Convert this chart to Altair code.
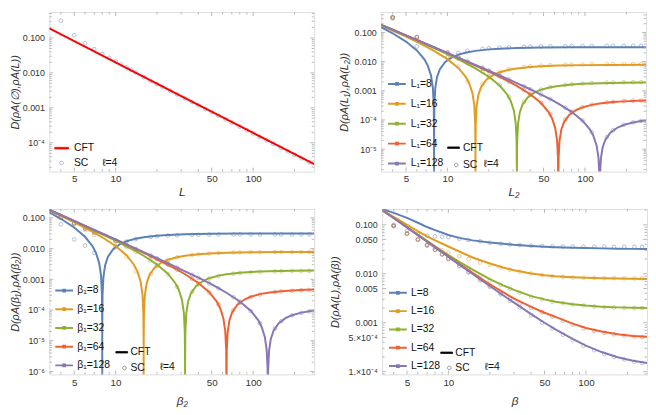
import altair as alt
import pandas as pd

# ---------------- data ----------------
# Panel 1: D(rho_A(empty), rho_A(L)) vs L
P1_CFT_L = [3.3, 10, 30, 100, 278]
P1_CFT_D = [0.188, 0.0201, 0.00218, 0.000192, 0.0000245]
P1_SC_L = [4, 5, 6, 7, 8, 9, 10, 11, 12, 13, 14, 16, 18, 20, 22, 25, 28, 32, 36, 40,
           45, 50, 56, 63, 70, 80, 90, 100, 112, 125, 140, 160, 180, 200, 225, 256]
P1_SC_D = [0.31, 0.12, 0.07, 0.048, 0.035, 0.027, 0.0215, 0.0175, 0.0145, 0.0122, 0.0104,
           0.0076, 0.0059, 0.0048, 0.0039, 0.00305, 0.00242, 0.00185, 0.00146, 0.00118,
           0.00093, 0.00075, 0.0006, 0.00047, 0.00038, 0.00029, 0.000229, 0.000185,
           0.000147, 0.000118, 0.000094, 0.000072, 0.0000565, 0.0000457, 0.000036, 0.0000278]

# Panel 2: D(rho_A(L1), rho_A(L2)) vs L2, CFT curves
P2_X8 = [3.3, 4, 5, 6, 6.8, 7.2, 7.6, 7.84, 7.96, 7.996, 7.9996, 7.99996, 8.00004, 8.0004,
         8.004, 8.04, 8.16, 8.4, 8.8, 9.6, 10.8, 12, 14, 16, 20, 24, 32, 48, 80, 160, 278]
P2_Y8 = [0.152, 0.0938, 0.0488, 0.0243, 0.012, 0.00733, 0.00338, 0.00129, 0.000315, 0.000031,
         0.0000031, 0.00000031, 0.00000031, 0.0000031, 0.000031, 0.00031, 0.00121, 0.0029,
         0.00543, 0.00955, 0.0141, 0.0174, 0.0211, 0.0234, 0.0263, 0.0278, 0.0293, 0.0304,
         0.0309, 0.0312, 0.0312]
P2_X16 = [3.3, 4, 5, 6, 7, 8, 10, 12, 13.6, 14.4, 15.2, 15.68, 15.92, 15.992, 15.9992, 15.99992,
          16.00008, 16.0008, 16.008, 16.08, 16.32, 16.8, 17.6, 19.2, 21.6, 24, 28, 32, 40, 48,
          64, 96, 160, 278]
P2_Y16 = [0.176, 0.117, 0.0722, 0.0477, 0.033, 0.0234, 0.0122, 0.00608, 0.003, 0.00183,
          0.000844, 0.000322, 0.0000787, 0.0000078, 0.00000078, 0.000000078, 0.000000078,
          0.00000078, 0.0000078, 0.0000776, 0.000303, 0.000727, 0.00136, 0.00239, 0.00353,
          0.00434, 0.00526, 0.00586, 0.00656, 0.00694, 0.00732, 0.0076, 0.00773, 0.00779]
P2_X32 = [3.3, 4, 5, 6, 8, 10, 12, 14, 16, 20, 24, 27.2, 28.8, 30.4, 31.36, 31.84, 31.984,
          31.9984, 32.0016, 32.016, 32.16, 32.64, 33.6, 35.2, 38.4, 43.2, 48, 56, 64, 80, 96,
          128, 192, 278]
P2_Y32 = [0.182, 0.123, 0.078, 0.0536, 0.0293, 0.0181, 0.0119, 0.00825, 0.00586, 0.00305,
          0.00152, 0.00075, 0.000458, 0.000211, 0.0000805, 0.0000197, 0.00000195, 0.000000195,
          0.000000195, 0.00000195, 0.0000194, 0.0000758, 0.000182, 0.000339, 0.000597,
          0.000881, 0.00109, 0.00132, 0.00147, 0.00164, 0.00174, 0.00183, 0.0019, 0.00193]
P2_X64 = [3.3, 4, 5, 6, 8, 10, 12, 16, 20, 24, 28, 32, 40, 48, 54.4, 57.6, 60.8, 62.72, 63.68,
          63.968, 63.9968, 64.0032, 64.032, 64.32, 65.28, 67.2, 70.4, 76.8, 86.4, 96, 112, 128,
          160, 192, 240, 278]
P2_Y64 = [0.183, 0.1245, 0.0795, 0.0551, 0.0308, 0.0195, 0.0134, 0.00732, 0.00451, 0.00298,
          0.00206, 0.001465, 0.000762, 0.00038, 0.0001875, 0.0001146, 0.0000527, 0.0000201,
          0.00000492, 0.00000049, 0.000000049, 0.000000049, 0.00000049, 0.00000485, 0.0000189,
          0.0000454, 0.0000848, 0.000149, 0.00022, 0.000271, 0.000329, 0.000366, 0.00041,
          0.000434, 0.000454, 0.000462]
P2_X128 = [3.3, 4, 5, 6, 8, 10, 12, 16, 20, 24, 32, 40, 48, 56, 64, 80, 96, 108.8, 115.2, 121.6,
           125.44, 127.36, 127.936, 128.064, 128.64, 130.56, 134.4, 140.8, 153.6, 172.8, 192,
           224, 256, 278]
P2_Y128 = [0.1835, 0.1249, 0.0799, 0.0554, 0.0311, 0.0199, 0.0138, 0.00769, 0.00488, 0.00335,
           0.00183, 0.00113, 0.000746, 0.000516, 0.000366, 0.00019, 0.000095, 0.0000469,
           0.0000286, 0.0000132, 0.00000503, 0.00000123, 0.000000122, 0.000000122, 0.00000121,
           0.00000474, 0.0000114, 0.0000212, 0.0000373, 0.0000551, 0.0000678, 0.0000822,
           0.0000916, 0.0000962]

# Panel 2 SC points
P2_SC_X = [4, 6, 10, 12, 14, 18, 20, 24, 28, 36, 40, 48, 56, 72, 80, 96, 112, 144, 160, 192, 224, 256]
P2_SC_8 = [0.3, 0.033, 0.014, 0.02, 0.0235, 0.0275, 0.0285, 0.0302, 0.031, 0.0322, 0.0327,
           0.0333, 0.0337, 0.0341, 0.0343, 0.0345, 0.0346, 0.0347, 0.0348, 0.0348, 0.0349, 0.035]
P2_SC_16 = [0.33, 0.06, 0.014, 0.0068, 0.0021, 0.0017, 0.0029, 0.0045, 0.0055, 0.0066, 0.0069,
            0.0073, 0.0076, 0.0078, 0.0079, 0.008, 0.0081, 0.0081, 0.0082, 0.0082, 0.0082, 0.0082]
P2_SC_32 = [0.33, 0.068, 0.02, 0.0125, 0.0087, 0.0044, 0.0032, 0.0016, 0.00062, 0.00042,
            0.00072, 0.00111, 0.00135, 0.0016, 0.00168, 0.00178, 0.00184, 0.0019, 0.00192,
            0.00195, 0.00197, 0.00198]
P2_SC_64 = [0.33, 0.07, 0.0205, 0.014, 0.0098, 0.0058, 0.0047, 0.0031, 0.0021, 0.00107,
            0.00077, 0.00039, 0.000155, 0.000105, 0.00018, 0.000275, 0.000335, 0.0004,
            0.000418, 0.000442, 0.000456, 0.000466]
P2_SC_128 = [0.33, 0.07, 0.0205, 0.0142, 0.0102, 0.0062, 0.005, 0.0034, 0.00245, 0.00143,
             0.00114, 0.00075, 0.00052, 0.000266, 0.000192, 0.000096, 0.000038, 0.000026,
             0.0000445, 0.0000685, 0.000083, 0.000093]

# Panel 3: D(rho_A(beta1), rho_A(beta2)) vs beta2 -- CFT curves read identical to panel 2
P3_X8, P3_Y8 = P2_X8, P2_Y8
P3_X16, P3_Y16 = P2_X16, P2_Y16
P3_X32, P3_Y32 = P2_X32, P2_Y32
P3_X64, P3_Y64 = P2_X64, P2_Y64
P3_X128, P3_Y128 = P2_X128, P2_Y128
P3_SC_X = [4, 5, 6, 7, 10, 12, 14, 18, 20, 24, 28, 36, 40, 48, 56, 72, 80, 96, 112, 144, 160, 192, 224, 256]
P3_SC_8 = [0.062, 0.02, 0.0125, 0.0073, 0.012, 0.017, 0.0205, 0.024, 0.0252, 0.0265, 0.0272,
           0.028, 0.0282, 0.0285, 0.0287, 0.0289, 0.029, 0.029, 0.029, 0.029, 0.029, 0.029, 0.029, 0.029]
P3_SC_16 = [0.1, 0.062, 0.04, 0.028, 0.011, 0.0055, 0.0018, 0.0015, 0.0027, 0.0042, 0.0052,
            0.0062, 0.0065, 0.0069, 0.0072, 0.0075, 0.0076, 0.0077, 0.0077, 0.0078, 0.0078,
            0.0078, 0.0078, 0.0078]
P3_SC_32 = [0.105, 0.066, 0.045, 0.034, 0.017, 0.0115, 0.0079, 0.0041, 0.0029, 0.00146, 0.00057,
            0.00039, 0.00068, 0.00106, 0.00128, 0.00153, 0.0016, 0.0017, 0.00176, 0.00182,
            0.00184, 0.00187, 0.00188, 0.00189]
P3_SC_64 = [0.105, 0.067, 0.046, 0.034, 0.018, 0.0127, 0.0093, 0.0056, 0.0045, 0.003, 0.00204,
            0.00104, 0.00075, 0.000375, 0.00015, 0.0001, 0.000172, 0.000265, 0.00032, 0.000385,
            0.000402, 0.000425, 0.00044, 0.00045]
P3_SC_128 = [0.105, 0.067, 0.046, 0.034, 0.0185, 0.0132, 0.0097, 0.0059, 0.0048, 0.0033, 0.0024,
             0.0014, 0.00112, 0.00073, 0.000505, 0.00026, 0.000187, 0.000093, 0.000037, 0.000025,
             0.000043, 0.000067, 0.000081, 0.00009]

# Panel 4: D(rho_A(L), rho_A(beta)) vs beta
P4_X = [3.3, 4, 5, 6, 7, 8, 10, 12, 15, 20, 25, 30, 40, 50, 60, 80, 100, 130, 170, 220, 278]
P4_Y8 = [0.21, 0.175, 0.138, 0.11, 0.09, 0.078, 0.062, 0.054, 0.048, 0.0435, 0.041, 0.039,
         0.037, 0.0357, 0.0349, 0.034, 0.0335, 0.033, 0.0325, 0.0322, 0.032]
P4_Y16 = [0.2, 0.145, 0.1, 0.074, 0.058, 0.048, 0.036, 0.0285, 0.0215, 0.0162, 0.0134, 0.0118,
          0.0101, 0.0093, 0.0089, 0.0085, 0.0083, 0.0081, 0.008, 0.0079, 0.0078]
P4_Y32 = [0.2, 0.139, 0.09, 0.063, 0.047, 0.0365, 0.0242, 0.0175, 0.0121, 0.0078, 0.0058,
          0.0047, 0.0035, 0.003, 0.00268, 0.00238, 0.00224, 0.00213, 0.00206, 0.00202, 0.002]
P4_Y64 = [0.2, 0.138, 0.0885, 0.0617, 0.0455, 0.035, 0.0226, 0.0159, 0.0104, 0.0061, 0.0042,
          0.0031, 0.0021, 0.0016, 0.00132, 0.00096, 0.00078, 0.00066, 0.00058, 0.000535, 0.000515]
P4_Y128 = [0.2, 0.1376, 0.0881, 0.0612, 0.045, 0.0345, 0.0221, 0.0154, 0.0099, 0.00562, 0.00364,
           0.00257, 0.0015, 0.001, 0.00073, 0.000466, 0.000342, 0.000252, 0.000198, 0.000167, 0.00015]
P4_SC_X = [4, 5, 6, 7, 8, 9, 10, 12, 14, 17, 20, 24, 28, 33, 40, 48, 57, 68, 80, 96, 115, 136,
           160, 190, 225, 256]
P4_SC_8 = [0.1, 0.075, 0.065, 0.06, 0.058, 0.057, 0.056, 0.052, 0.049, 0.046, 0.043, 0.041,
           0.0398, 0.0385, 0.0375, 0.0368, 0.0363, 0.036, 0.0358, 0.0357, 0.0356, 0.0356,
           0.0355, 0.0355, 0.0355, 0.0355]
P4_SC_16 = [0.095, 0.066, 0.05, 0.04, 0.034, 0.03, 0.027, 0.023, 0.02, 0.017, 0.0152, 0.0134,
            0.0121, 0.011, 0.0101, 0.0094, 0.0089, 0.0086, 0.0084, 0.0083, 0.0082, 0.0081,
            0.0081, 0.008, 0.008, 0.008]
P4_SC_32 = [0.095, 0.066, 0.05, 0.038, 0.031, 0.025, 0.021, 0.016, 0.0125, 0.0093, 0.0074,
            0.0059, 0.0049, 0.0041, 0.0034, 0.003, 0.0027, 0.0025, 0.00235, 0.00225, 0.00214,
            0.00208, 0.00204, 0.00201, 0.00199, 0.00198]
P4_SC_64 = [0.095, 0.066, 0.05, 0.038, 0.031, 0.025, 0.02, 0.0147, 0.011, 0.0077, 0.0057, 0.004,
            0.0031, 0.0025, 0.002, 0.00165, 0.00133, 0.0011, 0.00092, 0.00077, 0.00068, 0.00062,
            0.00058, 0.000545, 0.00052, 0.00051]
P4_SC_128 = [0.095, 0.066, 0.05, 0.038, 0.031, 0.025, 0.02, 0.0142, 0.0106, 0.0074, 0.0054,
             0.0038, 0.0028, 0.00205, 0.00142, 0.001, 0.00076, 0.00057, 0.00044, 0.00034,
             0.000275, 0.00023, 0.0002, 0.000178, 0.00016, 0.00015]

# Labels / ticks
NAMES_L1 = ["L₁=8", "L₁=16", "L₁=32", "L₁=64", "L₁=128"]
NAMES_B1 = ["β₁=8", "β₁=16", "β₁=32", "β₁=64", "β₁=128"]
NAMES_L = ["L=8", "L=16", "L=32", "L=64", "L=128"]
KINDS = ["CFT", "SC"]
P1_SERIES = ["cft curve", "sc points"]
ELL_TEXT = ["ℓ=4"]
X_MAJOR = [5, 10, 50, 100]
X_MINOR = [4, 6, 7, 8, 9, 20, 30, 40, 60, 70, 80, 90, 200]
Y_MAJOR_DEC = [0.1, 0.01, 0.001, 0.0001, 0.00001, 0.000001]
Y_LABELS_DEC = ["0.100", "0.010", "0.001", "10⁻⁴", "10⁻⁵", "10⁻⁶"]
Y_MAJOR_P4 = [0.1, 0.05, 0.01, 0.005, 0.001, 0.0005, 0.0001]
Y_LABELS_P4 = ["0.100", "0.050", "0.010", "0.005", "0.001", "5.×10⁻⁴", "1.×10⁻⁴"]

# ---------------- styling ----------------
FONT = "Liberation Sans"
FRAME = "#a9a9a9"
PALETTE = ["#5E81B5", "#E19C24", "#8FB032", "#EB6235", "#8778B3"]
X_DOMAIN = [3.3, 278]
W = 269
H_TOP = 162
H_BOT = 168
SERIES_SYMBOL = "M-1,0H1M-0.1,-0.1H0.1V0.1H-0.1Z"
LINE_SYMBOL = "M-1,-0.12H1V0.12H-1Z"
CIRCLE_OFFSET = "M0.15,0A0.3,0.3 0 1,0 0.75,0A0.3,0.3 0 1,0 0.15,0Z"
CIRCLE_CENTER = "M-0.26,0A0.26,0.26 0 1,0 0.26,0A0.26,0.26 0 1,0 -0.26,0Z"
INDEP = dict(color="independent", shape="independent", fill="independent", stroke="independent")


def long_frame(xs_list, ys_list, names):
    rows = []
    for xs, ys, n in zip(xs_list, ys_list, names):
        for a, b in zip(xs, ys):
            rows.append({"x": a, "y": b, "series": n})
    return pd.DataFrame(rows)


def minor_ticks(lo, hi, majors):
    vals = []
    for e in range(-8, 1):
        for m in range(1, 10):
            v = m * 10.0 ** e
            if lo < v < hi and all(abs(v / t - 1) > 1e-6 for t in majors):
                vals.append(v)
    return vals


def label_expr(values, labels):
    pairs = sorted(zip(values, labels), reverse=True)
    expr = "'" + pairs[-1][1] + "'"
    for i in range(len(pairs) - 2, -1, -1):
        thr = (pairs[i][0] * pairs[i + 1][0]) ** 0.5
        expr = "datum.value > %.4e ? '%s' : (%s)" % (thr, pairs[i][1], expr)
    return expr


def build_panel(c):
    H = c["height"]
    xs = alt.Scale(type="log", domain=X_DOMAIN, nice=False)
    ys = alt.Scale(type="log", domain=c["ydom"], nice=False)
    cscale = alt.Scale(domain=c["cdomain"], range=c["crange"])
    if c.get("series_leg"):
        lx, ly, rp, lo = c["series_leg"]
        series_legend = alt.Legend(
            orient="none", legendX=lx, legendY=ly, direction="vertical", title=None,
            symbolType=SERIES_SYMBOL, symbolSize=324, symbolStrokeWidth=2, symbolOpacity=1,
            labelFont=FONT, labelFontSize=10.5, labelColor="#111", labelOffset=lo,
            rowPadding=rp, padding=0)
    else:
        series_legend = None
    xaxis = alt.Axis(values=X_MAJOR, format="d", ticks=False, tickSize=0, domain=False, grid=False,
                     labelFont=FONT, labelFontSize=10, labelColor="#333", labelPadding=c["xlpad"],
                     labelFlush=False,
                     titleFont=FONT, titleFontSize=12, titleFontStyle="italic",
                     titleFontWeight="normal", titleColor="#333", titlePadding=c["xtpad"])
    yaxis = alt.Axis(values=c["ymaj"], labelExpr=label_expr(c["ymaj"], c["ylab"]), ticks=False,
                     tickSize=0, domain=False, grid=False, labelFont=FONT, labelFontSize=9,
                     labelColor="#333", labelPadding=5, labelFlush=False, labelOverlap=False,
                     titleFont=FONT, titleFontSize=11, titleFontStyle="italic",
                     titleFontWeight="normal", titleColor="#333", titlePadding=c["ytpad"])

    def X(field):
        return alt.X(field, scale=xs, axis=xaxis, title=c["xtitle"])

    def Y(field):
        return alt.Y(field, scale=ys, axis=yaxis, title=c["ytitle"])

    lines = alt.Chart(c["lines"]).mark_line(clip=True, strokeWidth=2).encode(
        x=X("x:Q"), y=Y("y:Q"),
        color=alt.Color("series:N", scale=cscale, legend=series_legend),
    )
    pts = alt.Chart(c["points"]).mark_point(clip=True, shape="circle", filled=False, size=14,
                                            strokeWidth=0.8, opacity=0.6).encode(
        x=X("x:Q"), y=Y("y:Q"),
        color=alt.Color("series:N", scale=cscale, legend=series_legend),
    )
    kx, ky, krp, klo, ksize = c["kind_leg"]
    kleg = alt.Legend(orient="none", legendX=kx, legendY=ky, direction="vertical", title=None,
                      symbolSize=ksize, symbolStrokeWidth=0.8, symbolOpacity=1,
                      labelFont=FONT, labelFontSize=10.5, labelColor="#111", labelOffset=klo,
                      rowPadding=krp, padding=0)
    kind = alt.Chart(pd.DataFrame({"kind": KINDS})).mark_point(clip=True).encode(
        x=alt.value(-60), y=alt.value(-60),
        shape=alt.Shape("kind:N", scale=alt.Scale(domain=KINDS, range=[c["line_symbol"], c["circle_symbol"]]), legend=kleg),
        fill=alt.Fill("kind:N", scale=alt.Scale(domain=KINDS, range=c["kind_fill"]), legend=kleg),
        stroke=alt.Stroke("kind:N", scale=alt.Scale(domain=KINDS, range=c["kind_stroke"]), legend=kleg),
    )
    ex, ey = c["ell"]
    ell = alt.Chart(pd.DataFrame({"t": ELL_TEXT})).mark_text(
        align="left", baseline="middle", font=FONT, fontSize=10.5, color="#111").encode(
        x=alt.value(ex), y=alt.value(ey), text="t:N")

    ymin = minor_ticks(c["ydom"][0], c["ydom"][1], c["ymaj"])
    ticks = []
    for vals, ln in ((X_MAJOR, 4), (X_MINOR, 2.5)):
        d = pd.DataFrame({"x": vals})
        ticks.append(alt.Chart(d).mark_rule(color=FRAME, strokeWidth=0.8).encode(
            x=X("x:Q"), y=alt.value(H), y2=alt.value(H - ln)))
        ticks.append(alt.Chart(d).mark_rule(color=FRAME, strokeWidth=0.8).encode(
            x=X("x:Q"), y=alt.value(0), y2=alt.value(ln)))
    for vals, ln in ((c["ymaj"], 4), (ymin, 2.5)):
        d = pd.DataFrame({"y": vals})
        ticks.append(alt.Chart(d).mark_rule(color=FRAME, strokeWidth=0.8).encode(
            y=Y("y:Q"), x=alt.value(0), x2=alt.value(ln)))
        ticks.append(alt.Chart(d).mark_rule(color=FRAME, strokeWidth=0.8).encode(
            y=Y("y:Q"), x=alt.value(W), x2=alt.value(W - ln)))
    return alt.layer(pts, lines, *ticks, kind, ell).properties(width=W, height=H)


p1 = build_panel(dict(
    height=H_TOP, ydom=[1.5e-5, 0.55], ymaj=Y_MAJOR_DEC[:4], ylab=Y_LABELS_DEC[:4],
    lines=long_frame([P1_CFT_L], [P1_CFT_D], P1_SERIES[:1]),
    points=long_frame([P1_SC_L], [P1_SC_D], P1_SERIES[1:]),
    cdomain=P1_SERIES, crange=["#FF0000", "#5E81B5"],
    xtitle="L", ytitle="D(ρA(∅),ρA(L))", xlpad=2, xtpad=3, ytpad=2,
    series_leg=None, kind_leg=(5, 130.7, 2, 5, 196),
    line_symbol=LINE_SYMBOL, circle_symbol=CIRCLE_CENTER,
    kind_fill=["#FF0000", "transparent"], kind_stroke=["#FF0000", "#8DA4D0"],
    ell=(53.7, 153.7)))

p2 = build_panel(dict(
    height=H_TOP, ydom=[1.7e-6, 0.5], ymaj=Y_MAJOR_DEC[:5], ylab=Y_LABELS_DEC[:5],
    lines=long_frame([P2_X8, P2_X16, P2_X32, P2_X64, P2_X128],
                     [P2_Y8, P2_Y16, P2_Y32, P2_Y64, P2_Y128], NAMES_L1),
    points=long_frame([P2_SC_X] * 5, [P2_SC_8, P2_SC_16, P2_SC_32, P2_SC_64, P2_SC_128], NAMES_L1),
    cdomain=NAMES_L1, crange=PALETTE,
    xtitle="L₂", ytitle="D(ρA(L₁),ρA(L₂))", xlpad=2, xtpad=3, ytpad=5,
    series_leg=(6, 63, 4.2, 4), kind_leg=(67, 131.2, 5.5, 3, 144),
    line_symbol=LINE_SYMBOL, circle_symbol=CIRCLE_OFFSET,
    kind_fill=["#000000", "transparent"], kind_stroke=["#000000", "#777777"],
    ell=(104, 154.7)))

p3 = build_panel(dict(
    height=H_BOT, ydom=[8e-7, 0.195], ymaj=Y_MAJOR_DEC, ylab=Y_LABELS_DEC,
    lines=long_frame([P3_X8, P3_X16, P3_X32, P3_X64, P3_X128],
                     [P3_Y8, P3_Y16, P3_Y32, P3_Y64, P3_Y128], NAMES_B1),
    points=long_frame([P3_SC_X] * 5, [P3_SC_8, P3_SC_16, P3_SC_32, P3_SC_64, P3_SC_128], NAMES_B1),
    cdomain=NAMES_B1, crange=PALETTE,
    xtitle="β₂", ytitle="D(ρA(β₁),ρA(β₂))", xlpad=3, xtpad=9, ytpad=2,
    series_leg=(5, 72.8, 3.0, 3.3), kind_leg=(67, 139, 4, 2.3, 144),
    line_symbol=LINE_SYMBOL, circle_symbol=CIRCLE_OFFSET,
    kind_fill=["#000000", "transparent"], kind_stroke=["#000000", "#777777"],
    ell=(112, 160)))

p4 = build_panel(dict(
    height=H_BOT, ydom=[8.8e-5, 0.21], ymaj=Y_MAJOR_P4, ylab=Y_LABELS_P4,
    lines=long_frame([P4_X] * 5, [P4_Y8, P4_Y16, P4_Y32, P4_Y64, P4_Y128], NAMES_L),
    points=long_frame([P4_SC_X] * 5, [P4_SC_8, P4_SC_16, P4_SC_32, P4_SC_64, P4_SC_128], NAMES_L),
    cdomain=NAMES_L, crange=PALETTE,
    xtitle="β", ytitle="D(ρA(L),ρA(β))", xlpad=3, xtpad=9, ytpad=8,
    series_leg=(6, 75.1, 2.6, 3.3), kind_leg=(59, 139.5, 3.3, 2.3, 144),
    line_symbol=LINE_SYMBOL, circle_symbol=CIRCLE_OFFSET,
    kind_fill=["#000000", "transparent"], kind_stroke=["#000000", "#777777"],
    ell=(104, 160)))

top = alt.hconcat(p1, p2, spacing=22).resolve_scale(**INDEP)
bottom = alt.hconcat(p3, p4, spacing=13).resolve_scale(**INDEP)
chart = alt.vconcat(top, bottom, spacing=10).resolve_scale(**INDEP).properties(
    padding={"left": 0, "top": 0, "right": 0, "bottom": 0}
).configure_view(stroke=FRAME, strokeWidth=1).configure(font=FONT)

chart.save("out.html", embed_options={"renderer": "svg", "actions": False})
